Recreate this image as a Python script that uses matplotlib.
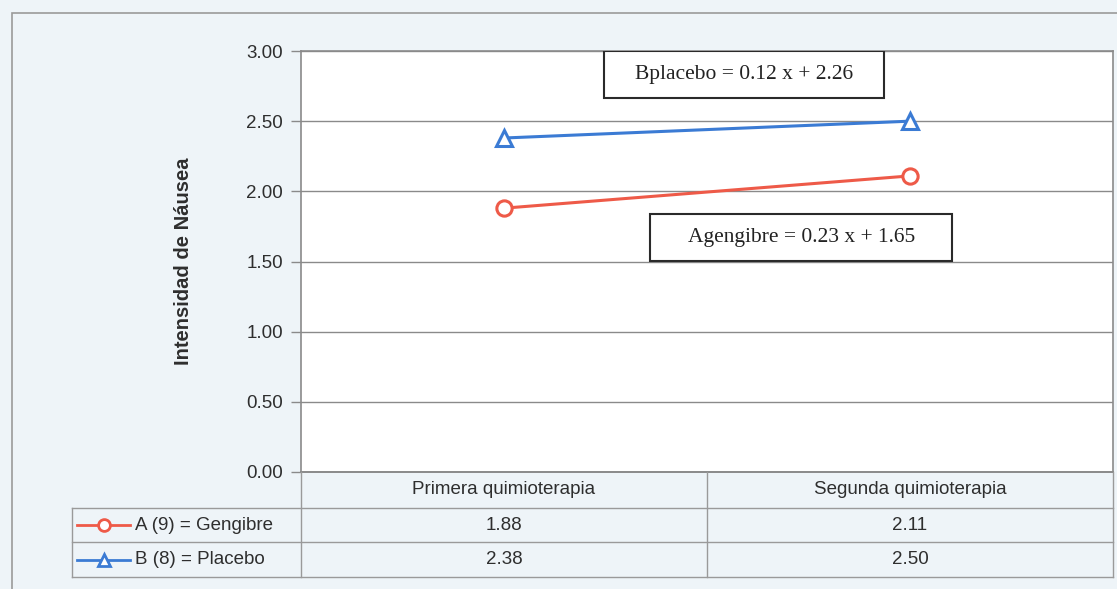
import matplotlib.pyplot as plt
from matplotlib.lines import Line2D
from matplotlib.patches import Rectangle

# sessions on the category axis
sesiones = ['Primera quimioterapia', 'Segunda quimioterapia']
# mean nausea intensity per group
gengibre = [1.88, 2.11]
placebo = [2.38, 2.50]
nombres = ['A (9) = Gengibre', 'B (8) = Placebo']
ecuaciones = ['Bplacebo = 0.12 x + 2.26', 'Agengibre = 0.23 x + 1.65']
yticks = [0.0, 0.5, 1.0, 1.5, 2.0, 2.5, 3.0]

ROJO = '#ee5a48'
AZUL = '#3b7bd4'
FONDO = '#eef4f8'
TEXTO = '#2e2e2e'
GRIS = '#8a8a8a'

W, H = 1117, 589
plt.rcParams['font.family'] = ['Liberation Sans', 'DejaVu Sans']

fig = plt.figure(figsize=(W / 100, H / 100), dpi=100)
fig.patch.set_facecolor(FONDO)


def fx(px):
    return px / W


def fy(py):
    return 1 - py / H


# outer chart border
fig.add_artist(Rectangle((fx(12), fy(600)), fx(1130) - fx(12), fy(13) - fy(600),
                         transform=fig.transFigure, fill=False, ec='#9a9a9a', lw=1.2))

left, right, top, bottom = 301, 1113, 51, 472
ax = fig.add_axes([fx(left), fy(bottom), fx(right) - fx(left), fy(top) - fy(bottom)])
ax.set_facecolor('white')
ax.set_xlim(-0.5, len(sesiones) - 0.5)
ax.set_ylim(0, 3)
ax.set_yticks(yticks)
ax.set_yticklabels(['%.2f' % v for v in yticks], fontsize=13.5, color=TEXTO)
ax.set_xticks([])
ax.tick_params(axis='y', length=7, width=1, color=GRIS, pad=6)
ax.grid(axis='y', color=GRIS, lw=1)
ax.set_axisbelow(True)
for s in ax.spines.values():
    s.set_color(GRIS)
    s.set_linewidth(1.2)
ax.set_ylabel('Intensidad de Náusea', fontsize=14.5, fontweight='bold', color=TEXTO, labelpad=38)

xs = range(len(sesiones))
ax.plot(xs, gengibre, color=ROJO, lw=2.2, marker='o', ms=11, mfc='white', mew=2.2)
ax.plot(xs, placebo, color=AZUL, lw=2.2, marker='^', ms=11, mfc='white', mew=2.2)

# regression equation boxes (axes fraction)
cajas = [(0.373, 0.888, 0.345, 0.112), (0.430, 0.502, 0.372, 0.110)]
for (x0, y0, w, h), txt in zip(cajas, ecuaciones):
    ax.add_patch(Rectangle((x0, y0), w, h, transform=ax.transAxes, fill=True,
                           fc='white', ec='#2a2a2a', lw=1.5, zorder=5))
    ax.text(x0 + w / 2, y0 + h / 2, txt, transform=ax.transAxes, ha='center', va='center',
            family='Liberation Serif', fontsize=15.5, color='#222222', zorder=6)

# data table under the plot
rows = [472, 508, 542, 577]
tleft, tmid = 72, (left + right) / 2
tab = fig.add_axes([0, 0, 1, 1], facecolor='none')
tab.set_xlim(0, W)
tab.set_ylim(H, 0)
tab.axis('off')
lc = '#9a9a9a'
tab.plot([left, right], [rows[0], rows[0]], color=GRIS, lw=1.2)
for r in rows[1:]:
    tab.plot([tleft, right], [r, r], color=lc, lw=1)
tab.plot([tleft, tleft], [rows[1], rows[3]], color=lc, lw=1)
for xv in (left, tmid, right):
    tab.plot([xv, xv], [rows[0], rows[3]], color=lc, lw=1)

centros = [(left + tmid) / 2, (tmid + right) / 2]
for c, s in zip(centros, sesiones):
    tab.text(c, (rows[0] + rows[1]) / 2, s, ha='center', va='center', fontsize=13.5, color=TEXTO)

for i, (serie, nombre, col, mk) in enumerate([(gengibre, nombres[0], ROJO, 'o'),
                                               (placebo, nombres[1], AZUL, '^')]):
    yc = (rows[i + 1] + rows[i + 2]) / 2
    tab.add_line(Line2D([77, 130], [yc, yc], color=col, lw=2))
    tab.plot([103.5], [yc], marker=mk, ms=8.5, mfc='white', mec=col, mew=2, color=col)
    tab.text(135, yc, nombre, ha='left', va='center', fontsize=13.5, color=TEXTO)
    for c, v in zip(centros, serie):
        tab.text(c, yc, '%.2f' % v, ha='center', va='center', fontsize=13.5, color=TEXTO)

fig.savefig('out.png', dpi=100, facecolor=fig.get_facecolor())
